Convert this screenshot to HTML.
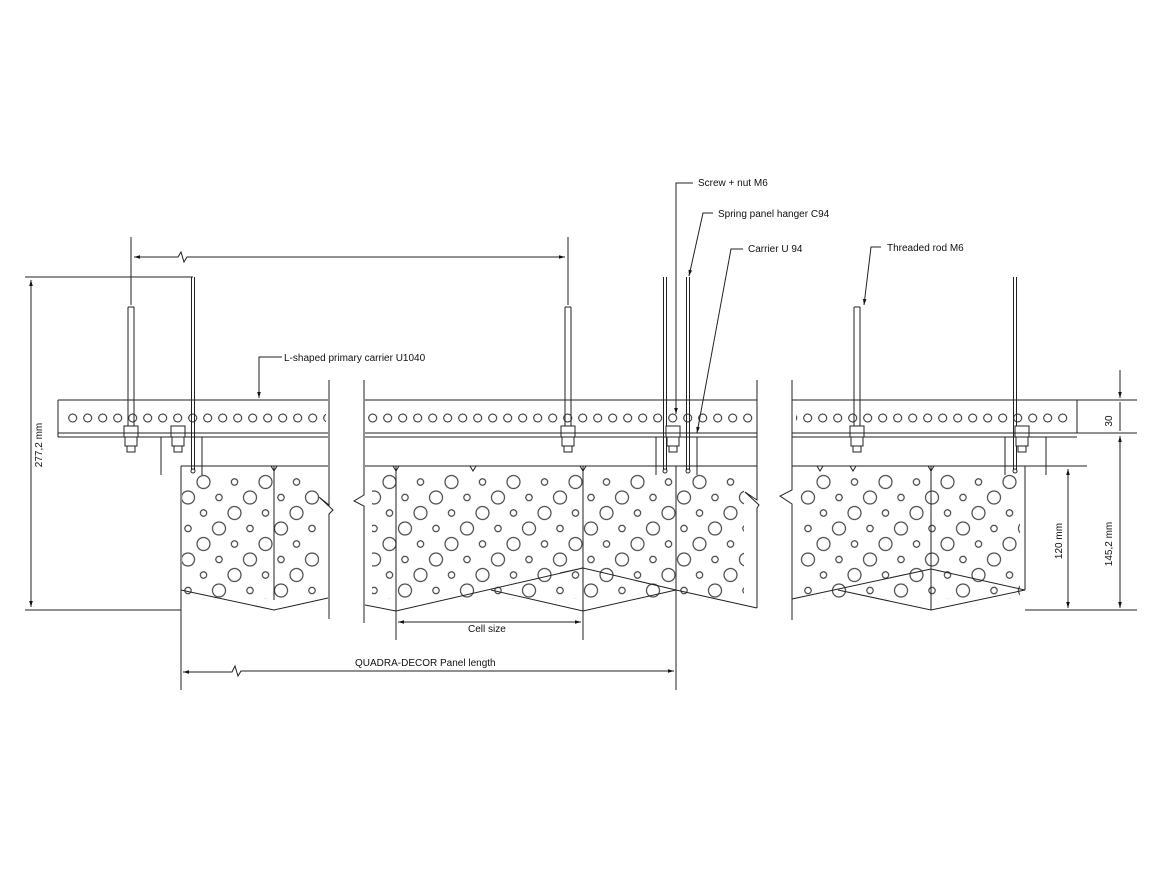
<!DOCTYPE html>
<html><head><meta charset="utf-8"><style>
html,body{margin:0;padding:0;background:#fff;}
svg{display:block;}
text{font-family:"Liberation Sans",sans-serif;font-size:10px;fill:#111;}
</style></head><body>
<svg width="1170" height="878" viewBox="0 0 1170 878" xmlns="http://www.w3.org/2000/svg">
<defs>
<marker id="a" viewBox="0 0 10 10" refX="10" refY="5" markerWidth="8" markerHeight="6" orient="auto-start-reverse"><path d="M0,2 L10,5 L0,8z" fill="#111"/></marker>
<pattern id="ch" patternUnits="userSpaceOnUse" x="65.2" y="400" width="15" height="34">
<circle cx="7.5" cy="18" r="4" fill="none" stroke="#222" stroke-width="1"/>
</pattern>
<pattern id="ph" patternUnits="userSpaceOnUse" x="180.25" y="474.25" width="62" height="62">
<g fill="none" stroke="#222" stroke-width="1">
<circle cx="23.25" cy="7.75" r="6.5"/>
<circle cx="54.25" cy="7.75" r="3.2"/>
<circle cx="7.75" cy="23.25" r="6.5"/>
<circle cx="38.75" cy="23.25" r="3.2"/>
<circle cx="23.25" cy="38.75" r="3.2"/>
<circle cx="54.25" cy="38.75" r="6.5"/>
<circle cx="7.75" cy="54.25" r="3.2"/>
<circle cx="38.75" cy="54.25" r="6.5"/>
</g>
</pattern>
</defs>
<rect x="63" y="400" width="263" height="33" fill="url(#ch)"/>
<rect x="367" y="400" width="387" height="33" fill="url(#ch)"/>
<rect x="796" y="400" width="276" height="33" fill="url(#ch)"/>
<rect x="182" y="474" width="137" height="125" fill="url(#ph)"/>
<rect x="372" y="474" width="372" height="125" fill="url(#ph)"/>
<rect x="800" y="474" width="220" height="125" fill="url(#ph)"/>
<g stroke="#222" stroke-width="1" fill="none">
<path d="M58,400 H328 M58,433 H328 M58,437 H328 M58,400 V437"/>
<path d="M365,400 H757 M365,433 H757 M365,437 H757"/>
<path d="M792,400 H1077 V433 M792,433 H1077 M792,437 H1077"/>
<path d="M1077,400 H1137 M1077,433 H1137 M1025,466 H1087 M1025,610 H1137"/>
<path d="M181,466 H328 M365,466 H757 M792,466 H1025"/>
<path d="M329,380 V505 l-10,-8 l14,13 l-4,4 V619"/>
<path d="M364,380 V495 l-10,6 l10,5 V623"/>
<path d="M757,380 V500 l-12,-8 l14,13 l-2,3 V608"/>
<path d="M792,380 V490 l-12,6 l12,8 V620"/>
<path d="M181,466 V690 M274,466 V600 M396,466 V640 M583,466 V640 M676,466 V690 M931,466 V610 M1025,466 V590"/>
<path d="M181,590 L274,610 L328,598"/>
<path d="M365,605 L396,611 L583,568 L676,590 L757,608 M491,590 L583,611 L676,590 M560,573 L583,568"/>
<path d="M792,599 L931,569 L1025,590 M838,590 L931,610 L1025,590"/>
<path d="M271,466 l3,5 l3,-5 M393,466 l3,5 l3,-5 M580,466 l3,5 l3,-5 M928,466 l3,5 l3,-5 M817,466 l3,5 l3,-5 M850,466 l3,5 l3,-5 M470,466 l3,5 l3,-5"/>
<path d="M161,475 V437 H202 V475 M656,475 V437 H697 V475 M1005,475 V437 H1046 V475"/>
<path d="M128,307 V426 M134,307 V426 M128,307 H134"/>
<path d="M565,307 V426 M571,307 V426 M565,307 H571"/>
<path d="M854,307 V426 M860,307 V426 M854,307 H860"/>
<path d="M191.5,277 V470 M194.5,277 V470 M663.5,277 V470 M666.5,277 V470 M686.5,277 V470 M689.5,277 V470 M1013.5,277 V470 M1016.5,277 V470"/>
<circle cx="193" cy="471" r="2"/><circle cx="665" cy="471" r="2"/><circle cx="688" cy="471" r="2"/><circle cx="1015" cy="471" r="2"/>
<g fill="#fff">
<rect x="124" y="426" width="14" height="7"/><rect x="124" y="433" width="14" height="4"/><rect x="125" y="437" width="12" height="9"/><rect x="127" y="446" width="8" height="6"/>
<rect x="171" y="426" width="14" height="7"/><rect x="171" y="433" width="14" height="4"/><rect x="172" y="437" width="12" height="9"/><rect x="174" y="446" width="8" height="6"/>
<rect x="561" y="426" width="14" height="7"/><rect x="561" y="433" width="14" height="4"/><rect x="562" y="437" width="12" height="9"/><rect x="564" y="446" width="8" height="6"/>
<rect x="666" y="426" width="14" height="7"/><rect x="666" y="433" width="14" height="4"/><rect x="667" y="437" width="12" height="9"/><rect x="669" y="446" width="8" height="6"/>
<rect x="850" y="426" width="14" height="7"/><rect x="850" y="433" width="14" height="4"/><rect x="851" y="437" width="12" height="9"/><rect x="853" y="446" width="8" height="6"/>
<rect x="1015" y="426" width="14" height="7"/><rect x="1015" y="433" width="14" height="4"/><rect x="1016" y="437" width="12" height="9"/><rect x="1018" y="446" width="8" height="6"/>
</g>
<path d="M25,277 H193 M25,610 H181"/>
<path d="M31,280 V607" marker-start="url(#a)" marker-end="url(#a)"/>
<path d="M131,237 V305 M568,237 V305"/>
<path d="M134,257 H178 l3,-5 l3,10 l3,-5 H565" marker-start="url(#a)" marker-end="url(#a)"/>
<path d="M1120,370 V398" marker-end="url(#a)"/>
<path d="M1120,402 V431"/>
<path d="M1120,436 V608" marker-start="url(#a)" marker-end="url(#a)"/>
<path d="M1068,469 V608" marker-start="url(#a)" marker-end="url(#a)"/>
<path d="M398,622 H581" marker-start="url(#a)" marker-end="url(#a)"/>
<path d="M183,672 H232 l3,-6 l3,10 l3,-5 H674" marker-start="url(#a)" marker-end="url(#a)"/>
<path d="M282,357 H259 V398" marker-end="url(#a)"/>
<path d="M693,183 H676 V414" marker-end="url(#a)"/>
<path d="M713,213 H703 L689,276" marker-end="url(#a)"/>
<path d="M743,249 H731 L697,433" marker-end="url(#a)"/>
<path d="M881,247 H871 L864,305" marker-end="url(#a)"/>
</g>
<text x="698" y="186">Screw + nut M6</text>
<text x="718" y="217">Spring panel hanger C94</text>
<text x="748" y="252">Carrier U 94</text>
<text x="887" y="251">Threaded rod M6</text>
<text x="284" y="361">L-shaped primary carrier U1040</text>
<text x="468" y="632">Cell size</text>
<text x="355" y="666">QUADRA-DECOR Panel length</text>
<text transform="translate(42,445) rotate(-90)" text-anchor="middle">277,2 mm</text>
<text transform="translate(1112,421) rotate(-90)" text-anchor="middle">30</text>
<text transform="translate(1112,544) rotate(-90)" text-anchor="middle">145,2 mm</text>
<text transform="translate(1062,541) rotate(-90)" text-anchor="middle">120 mm</text>
</svg>
</body></html>
